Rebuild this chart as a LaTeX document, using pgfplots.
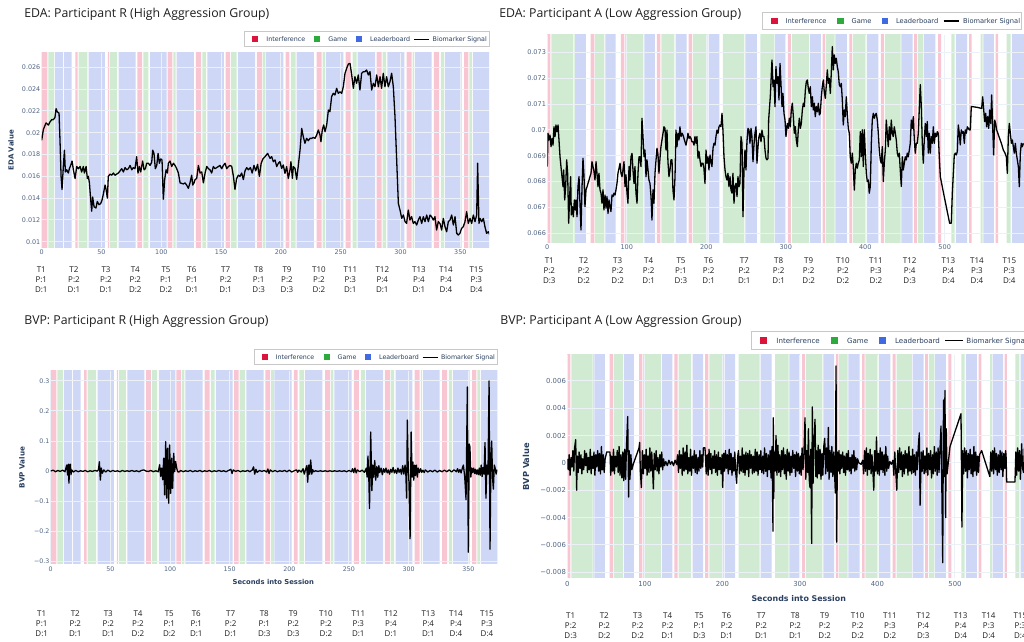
\documentclass[border=0pt]{standalone}
\usepackage{fontspec}
\setmainfont{Open Sans}
\newfontfamily\dv{DejaVu Sans}
\usepackage{pgfplots}
\pgfplotsset{compat=1.18}
\definecolor{pinkb}{RGB}{247,198,210}
\definecolor{greenb}{RGB}{208,235,210}
\definecolor{blueb}{RGB}{206,215,245}
\definecolor{legred}{RGB}{220,20,60}
\definecolor{leggreen}{RGB}{44,170,60}
\definecolor{legblue}{RGB}{65,105,225}
\definecolor{gridc}{RGB}{236,241,248}
\definecolor{tickc}{RGB}{80,100,130}
\definecolor{navy}{RGB}{42,63,95}
\definecolor{titlec}{RGB}{30,30,30}
\definecolor{legborder}{RGB}{200,200,200}

\pgfplotsset{
  panel/.style={
    scale only axis, anchor=south west,
    set layers, clip mode=individual,
    axis line style={draw=none}, tick style={draw=none},
    grid=major, major grid style={draw=gridc, line width=0.5pt},
    scaled ticks=false,
    xticklabel style={text=tickc, inner sep=0pt, anchor=north},
    yticklabel style={text=tickc, inner sep=0pt, anchor=east, xshift=-0.5pt},
  },
  sig/.style={black, line width=0.65pt, line join=round},
}

% Participant R bands: #1 low, #2 high
\newcommand\bandsR[2]{%
\addplot[on layer=axis background, const plot mark left, draw=none, fill=pinkb] coordinates {(0,#1)(0,#2)(4.7,#1)(28.1,#2)(30.1,#1)(55.4,#2)(56.3,#1)(80,#2)(83.9,#1)(105.3,#2)(109.2,#1)(129,#2)(133.2,#1)(153.8,#2)(157.5,#1)(180,#2)(184,#1)(203.9,#2)(207,#1)(229.9,#2)(234.1,#1)(254.1,#2)(258.3,#1)(280.1,#2)(284.3,#1)(305.1,#2)(309.3,#1)(328,#2)(332.2,#1)(353.2,#2)(356.8,#1)};
\addplot[on layer=axis background, const plot mark left, draw=none, fill=greenb] coordinates {(5.5,#1)(5.5,#2)(10.3,#1)(30.9,#2)(38.1,#1)(57.1,#2)(63,#1)(85,#2)(89.2,#1)(110,#2)(112,#1)(134.3,#2)(137.4,#1)(158.3,#2)(163,#1)(184.8,#2)(187,#1)(208.4,#2)(212.3,#1)(234.9,#2)(236.9,#1)(260,#2)(263.3,#1)(285,#2)(287.9,#1)(310.2,#2)(311.3,#1)(333.8,#2)(336.4,#1)(357.6,#2)(359.6,#1)};
\addplot[on layer=axis background, const plot mark left, draw=none, fill=blueb] coordinates {(11.1,#1)(11.1,#2)(18,#1)(18.7,#2)(25.1,#1)(39.3,#2)(52.9,#1)(64.3,#2)(78.6,#1)(90.6,#2)(104.5,#1)(112.9,#2)(127.3,#1)(138.5,#2)(152.4,#1)(164.1,#2)(178.4,#1)(187.5,#2)(202,#1)(213.2,#2)(227.6,#1)(237.7,#2)(252.2,#1)(264.2,#2)(278.7,#1)(289,#2)(303.2,#1)(312.1,#2)(326,#1)(337.2,#2)(351.2,#1)(360.5,#2)(380,#1)};
}
% Participant A bands
\newcommand\bandsA[2]{%
\addplot[on layer=axis background, const plot mark left, draw=none, fill=pinkb] coordinates {(0,#1)(0,#2)(3.8,#1)(54.6,#2)(59.2,#1)(92.7,#2)(96.9,#1)(138,#2)(142.2,#1)(177.9,#2)(182.1,#1)(302.8,#2)(306.6,#1)(346.5,#2)(349.5,#1)(380.2,#2)(383.6,#1)(419.6,#2)(423.4,#1)(461.6,#2)(464.9,#1)(491.6,#2)(495.4,#1)(530.6,#2)(534,#1)(564.1,#2)(567.1,#1)};
\addplot[on layer=axis background, const plot mark left, draw=none, fill=greenb] coordinates {(5.1,#1)(5.1,#2)(32.6,#1)(33.3,#2)(34.4,#1)(60,#2)(71.8,#1)(97.8,#2)(120.8,#1)(143.5,#2)(159.8,#1)(183.3,#2)(201.8,#1)(221,#2)(248,#1)(268,#2)(285.6,#1)(308.1,#2)(329,#1)(350.6,#2)(361.6,#1)(384.4,#2)(401,#1)(424.7,#2)(444.4,#1)(466.4,#2)(473.3,#1)(508.3,#2)(512.5,#1)(545.2,#2)(547.8,#1)(577.9,#2)(583,#1)};
\addplot[on layer=axis background, const plot mark left, draw=none, fill=blueb] coordinates {(34.9,#1)(34.9,#2)(48.5,#1)(73,#2)(86,#1)(122.1,#2)(135.5,#1)(161.5,#2)(175.3,#1)(203,#2)(216.4,#1)(249.2,#2)(263.6,#1)(286.3,#2)(300.3,#1)(330.3,#2)(344.2,#1)(362.6,#2)(376.9,#1)(402,#2)(416.7,#1)(445.4,#2)(459.5,#1)(474.1,#2)(488.4,#1)(514.2,#2)(528.3,#1)(548.6,#2)(562,#1)(584.7,#2)(610,#1)};
}

\begin{document}
\begin{tikzpicture}[x=0.5pt,y=0.5pt]

% ===== Top-left: EDA R =====
\begin{axis}[panel, at={(20.85pt,197.35pt)}, width=223.65pt, height=97.3pt,
  xmin=0, xmax=374, ymin=0.00949, ymax=0.02734,
  xtick={0,50,...,350}, xticklabels={0,50,100,150,200,250,300,350},
  ytick={0.01,0.012,0.014,0.016,0.018,0.02,0.022,0.024,0.026},
  yticklabels={0.01,0.012,0.014,0.016,0.018,0.02,0.022,0.024,0.026},
  xticklabel style={font={\dv\fontsize{3.2}{3.5}\selectfont}, yshift=-0.85pt},
  yticklabel style={font={\dv\fontsize{3.2}{3.5}\selectfont}}]
\bandsR{0}{0.05}
\addplot[sig] coordinates {(0,0.0193) (1.4,0.0203) (3.6,0.0209) (5.6,0.0207) (7,0.0210) (8.4,0.0212) (9.8,0.0212) (11.1,0.0214) (12,0.0222) (13.1,0.0219) (14.5,0.0218) (15.3,0.0193) (16.2,0.0160) (17,0.0148) (18.1,0.0169) (19,0.0184) (19.8,0.0164) (20.9,0.0166) (22.3,0.0163) (23.1,0.0167) (24.2,0.0170) (25.4,0.0174) (26.5,0.0166) (27.9,0.0158) (29.3,0.0169) (30.7,0.0167) (32.1,0.0169) (33.4,0.0164) (34.8,0.0169) (35.7,0.0163) (37.1,0.0169) (38.2,0.0158) (39,0.0160) (39.9,0.0154) (41,0.0138) (41.8,0.0128) (42.6,0.0141) (43.8,0.0132) (45.4,0.0131) (46.5,0.0137) (47.9,0.0134) (49.3,0.0135) (50.4,0.0138) (51.6,0.0144) (53,0.0152) (53.8,0.0148) (54.9,0.0140) (55.7,0.0160) (57.1,0.0162) (58.5,0.0161) (59.9,0.0163) (61.3,0.0161) (62.7,0.0162) (64.1,0.0163) (65.5,0.0165) (66.9,0.0167) (68.3,0.0164) (69.7,0.0168) (71.1,0.0166) (72.5,0.0167) (73.9,0.0170) (75.3,0.0166) (76.6,0.0168) (78,0.0167) (79.4,0.0178) (80.5,0.0163) (81.7,0.0169) (82.8,0.0164) (84.4,0.0174) (85.6,0.0166) (86.7,0.0167) (87.8,0.0172) (89.2,0.0172) (90.6,0.0170) (92,0.0173) (92.8,0.0184) (93.9,0.0181) (95,0.0167) (96.2,0.0170) (97.3,0.0181) (98.4,0.0172) (99.5,0.0176) (100.6,0.0175) (101.7,0.0139) (102.8,0.0157) (104,0.0166) (105.1,0.0163) (105.9,0.0172) (107.3,0.0174) (108.7,0.0169) (110.1,0.0172) (111.5,0.0170) (112.9,0.0167) (114.3,0.0163) (115.7,0.0154) (118.5,0.0153) (119.8,0.0154) (121.2,0.0152) (122.6,0.0149) (124,0.0154) (125.4,0.0161) (126.3,0.0152) (127.4,0.0154) (128.2,0.0157) (129.6,0.0158) (131,0.0170) (132.4,0.0163) (133.8,0.0164) (135.2,0.0154) (136.6,0.0163) (138,0.0169) (139.4,0.0167) (140.7,0.0166) (142.1,0.0163) (143.5,0.0169) (144.9,0.0167) (146.3,0.0168) (147.7,0.0169) (149.1,0.0170) (150.5,0.0167) (151.9,0.0170) (153.3,0.0172) (154.7,0.0167) (156.1,0.0169) (157.5,0.0170) (158.9,0.0169) (160.3,0.0160) (161.6,0.0148) (163,0.0158) (164.4,0.0161) (165.8,0.0160) (167.2,0.0163) (168.6,0.0157) (170,0.0165) (171.4,0.0168) (172.8,0.0166) (174.5,0.0168) (176,0.0163) (177.5,0.0170) (179,0.0165) (180.5,0.0171) (182,0.0160) (183.5,0.0172) (185,0.0176)
(186.7,0.0178)(188.9,0.0181)(190.9,0.01765)(192.3,0.0178)(193.7,0.01734)(195.1,0.0175)(196.5,0.01689)(197.9,0.0172)(199.2,0.01734)(200.6,0.01673)(202,0.01704)(203.4,0.01627)(204.8,0.01689)(206.2,0.01581)(207.6,0.01658)(208.4,0.01734)(209.6,0.01581)(210.4,0.01689)(211.8,0.01673)(213.2,0.01572)(214.6,0.01704)(216,0.01841)(217.4,0.0204)(218.7,0.01964)(220.1,0.01903)(221.5,0.01948)(222.9,0.01927)(224.3,0.01948)(225.7,0.01948)(227.1,0.01957)(228.5,0.01948)(229.9,0.01979)(231.3,0.02025)(232.7,0.01979)(233.5,0.01918)(234.6,0.02025)(235.8,0.02071)(236.9,0.0201)(238.3,0.02071)(239.7,0.02208)(241,0.02193)(242.4,0.0233)(243.8,0.02361)(245.2,0.02346)(246.6,0.02407)(248,0.02361)(249.4,0.02376)(250.8,0.02361)(252.2,0.02422)(253.6,0.02545)(255,0.02591)(256.4,0.0263)(257.8,0.02636)(259.2,0.0253)(260.6,0.02407)(261.9,0.02514)(263.3,0.02453)(264.7,0.0253)(266.1,0.02392)(267.5,0.02545)(268.9,0.0256)(270.3,0.0256)(271.7,0.02575)(273.1,0.0253)(274.5,0.0256)(275.9,0.02392)(277.3,0.02453)(278.7,0.02422)(280.1,0.0253)(281.5,0.02422)(282.9,0.02514)(284.2,0.02407)(285.6,0.02545)(287,0.02422)(288.4,0.02514)(289.8,0.02422)(291.2,0.02468)(292.6,0.02545)(294,0.02422)(295.4,0.02147)(296.8,0.0175)(298.2,0.01352)(299.6,0.01291)(301,0.01214)(302.4,0.01245)(303.8,0.01184)(305.1,0.01168)(306.5,0.01291)(307.9,0.01199)(309.3,0.0123)(310.7,0.01168)(312.1,0.01184)(313.5,0.01153)(314.9,0.01199)(316.3,0.0123)(317.7,0.01168)(319.1,0.0123)(320.5,0.01184)(321.9,0.01245)(323.3,0.01184)(324.7,0.01245)(326,0.0123)(327.4,0.01199)(328.8,0.0123)(330.2,0.01107)(331.6,0.01184)(333,0.01168)(334.4,0.01107)(335.8,0.01214)(337.2,0.01138)(338.6,0.01092)(340,0.01184)(341.4,0.01199)(342.8,0.01245)(344.2,0.01153)(345.6,0.0123)(347,0.01077)(348.3,0.01062)(349.7,0.01077)(351.1,0.01123)(352.5,0.01138)(353.9,0.01184)(355.3,0.01276)(356.7,0.01168)(358.1,0.01214)(359.5,0.01168)(360.9,0.01245)(362.3,0.01184)(363.7,0.01245)(364.5,0.0172)(365.6,0.01168)(366.5,0.01214)(367.9,0.01184)(369.3,0.01214)(370.6,0.01138)(372,0.01077)(373.4,0.01092)(374.8,0.01062)};
\end{axis}

% ===== Top-right: EDA A =====
\begin{axis}[panel, at={(273.65pt,199.65pt)}, width=238.35pt, height=103.85pt,
  xmin=0, xmax=599.8, ymin=0.065636, ymax=0.07367,
  xtick={0,100,...,500}, xticklabels={0,100,200,300,400,500},
  ytick={0.066,0.067,0.068,0.069,0.07,0.071,0.072,0.073},
  yticklabels={0.066,0.067,0.068,0.069,0.07,0.071,0.072,0.073},
  xticklabel style={font={\dv\fontsize{3.25}{3.5}\selectfont}, yshift=-0.95pt},
  yticklabel style={font={\dv\fontsize{3.25}{3.5}\selectfont}}]
\bandsA{0.064}{0.075}
\addplot[sig] coordinates {(0,0.06858)(0.9,0.06987)(2.1,0.06961)(3.4,0.0698)(4.7,0.06935)(5.9,0.06967)(7.2,0.06941)(8.4,0.07012)(9.7,0.06974)(10.9,0.07019)(12.2,0.06993)(13.5,0.07019)(14.7,0.06961)(16,0.06896)(17.2,0.06858)(18.5,0.06819)(19.8,0.0678)(20.6,0.06845)(21.9,0.06729)(23.1,0.0678)(24.4,0.06884)(25.6,0.06832)(26.9,0.06639)(28.1,0.06742)(29.4,0.06819)(30.2,0.06671)(31.5,0.06703)(32.8,0.06664)(34,0.06729)(35.3,0.0669)(36.1,0.06729)(37.4,0.06664)(38.6,0.0678)(39.9,0.06819)(41.1,0.06716)(42.4,0.06613)(43.7,0.0678)(44.9,0.0689)(46.2,0.06819)(47.4,0.06703)(48.7,0.06768)(50,0.0678)(51.2,0.06793)(52.5,0.06806)(53.7,0.06819)(55,0.06832)(56.2,0.06877)(57.5,0.06858)(58.8,0.06838)(60,0.06806)(61.3,0.06877)(62.5,0.06832)(63.8,0.0678)(65,0.06832)(66.3,0.06768)(67.6,0.06755)(68.8,0.06716)(70.1,0.06768)(71.3,0.0669)(72.6,0.06748)(73.9,0.06697)(75.1,0.06742)(76.4,0.06677)(77.6,0.06729)(78.9,0.06703)(80.1,0.06684)(81.4,0.06748)(82.7,0.06742)(83.9,0.06755)(85.2,0.06748)(86.4,0.06768)(87.7,0.06793)(88.9,0.06832)(90.2,0.06851)(91.5,0.06871)(92.7,0.06832)(94,0.06819)(95.2,0.06845)(96.5,0.06877)(97.8,0.0678)(99,0.06826)(100.3,0.06755)(101.5,0.06716)(102.8,0.06858)(104,0.06806)(105.3,0.06896)(106.6,0.06909)(107.8,0.06845)(109.1,0.06793)(110.3,0.06858)(111.6,0.06755)(112.9,0.06716)(114.1,0.06832)(115.4,0.06896)(116.6,0.06896)(117.9,0.06858)(119.1,0.07045)(120.4,0.06974)(121.7,0.06896)(122.9,0.06922)(124.2,0.06819)(125.4,0.06884)(126.7,0.06845)(127.9,0.06806)(129.2,0.06793)(130.5,0.06742)(131.7,0.06651)(133,0.06768)(134.2,0.06716)(135.5,0.06832)(136.8,0.06884)(138,0.06929)(139.3,0.06903)(140.5,0.06832)(141.8,0.0689)(143,0.06935)(144.3,0.06961)(145.6,0.06987)(146.8,0.07012)(148.1,0.07006)(149.3,0.06922)(150.6,0.06999)(151.8,0.06877)(153.1,0.06819)(154.4,0.06845)(155.6,0.06884)(156.9,0.06884)(158.1,0.06768)(159.4,0.06729)(160.7,0.06819)(161.9,0.06999)(163.2,0.06935)(164.4,0.06987)(165.7,0.06961)(166.9,0.07012)(168.2,0.06974)(169.5,0.06987)(170.7,0.0698)(172,0.06967)(173.2,0.06954)(174.5,0.06941)(175.8,0.06961)(177,0.06987)(178.3,0.06967)(179.5,0.06974)(180.8,0.06967)(182,0.06954)(183.3,0.06954)(184.6,0.06941)(185.8,0.06974)(187.1,0.06948)(188.3,0.06974)(189.6,0.0689)(190.9,0.06916)(192.1,0.06884)(193.4,0.06858)(194.6,0.06871)(195.9,0.06871)(197.1,0.06851)(198.4,0.06793)(199.7,0.06922)(200.9,0.06871)(202.2,0.06896)(203.4,0.06845)(204.7,0.06903)(205.9,0.06877)(207.2,0.06858)(208.5,0.06929)(209.7,0.06948)(211,0.06941)(212.2,0.06974)(213.5,0.06999)(214.8,0.06987)(216,0.07012)(217.3,0.07019)(218.5,0.07012)(219.8,0.07064)(221,0.06999)(222.3,0.06896)(223.6,0.06845)(224.8,0.06819)(226.1,0.06806)(227.3,0.06832)(228.6,0.0678)(229.9,0.06819)(231.1,0.06768)(232.4,0.06755)(233.6,0.06832)(234.9,0.06716)(236.1,0.0678)(237.4,0.06793)(238.7,0.06742)(239.9,0.06819)(241.2,0.0678)(242.4,0.06793)(243.7,0.06974)(245,0.06948)(246.2,0.06664)(247.5,0.06845)(248.7,0.06922)(250,0.06845)(251.2,0.06954)(252.5,0.07006)(253.8,0.06999)(255,0.06948)(256.3,0.07006)(257.5,0.06974)(258.8,0.06877)(260,0.06941)(261.3,0.06987)(262.6,0.07012)(263.8,0.06871)(265.1,0.06935)(266.3,0.06974)(267.6,0.06987)(268.9,0.06954)(270.1,0.06999)(271.4,0.06974)(272.6,0.06974)(273.9,0.06922)(275.2,0.0689)(276.4,0.06884)(277.7,0.0689)(278.5,0.07038)(280.6,0.07129)(282.7,0.0727)(284,0.07167)(285.2,0.07193)(286.5,0.0709)(287.7,0.07245)(289,0.0718)(290.3,0.07206)(291.5,0.07116)(292.8,0.07257)(294,0.0718)(295.3,0.0709)(296.5,0.07141)(297.8,0.07064)(299.1,0.07038)(300.3,0.06974)(302,0.07025)(303.3,0.07006)(304.5,0.07045)(305.8,0.07012)(307,0.07077)(308.3,0.07103)(309.6,0.07051)(310.8,0.06987)(312.1,0.07012)(313.3,0.06961)(314.6,0.06935)(315.8,0.07)(317.1,0.07045)(318.4,0.07006)(319.6,0.07025)(320.9,0.07077)(322.1,0.07103)(323.4,0.0709)(324.7,0.07154)(325.9,0.07186)(327.2,0.07193)(328.4,0.07161)(329.7,0.07141)(330.9,0.07167)(332.2,0.0709)(333.5,0.07128)(334.7,0.07077)(336,0.07103)(337.2,0.07051)(338.5,0.0709)(339.7,0.0707)(341,0.07103)(342.3,0.07058)(343.5,0.07064)(344.8,0.07128)(346,0.07167)(347.3,0.07193)(348.5,0.07148)(349.8,0.07122)(351.1,0.07174)(352.3,0.07232)(353.6,0.0718)(354.8,0.07199)(356.1,0.07141)(357.3,0.07219)(358.6,0.07322)(359.9,0.07232)(361.1,0.0729)(362.4,0.07257)(363.6,0.07277)(364.9,0.07244)(366.1,0.07225)(367.4,0.07174)(368.7,0.07167)(369.9,0.0718)(371.2,0.07116)(372.4,0.07019)(373.7,0.07077)(374.9,0.07051)(376.2,0.07128)(377.5,0.07058)(378.7,0.07006)(380,0.06987)(381.2,0.06896)(382.5,0.06871)(383.8,0.0691)(385,0.06858)(386.3,0.06767)(387.5,0.06845)(388.8,0.06871)(390,0.06852)(391.3,0.06871)(392.6,0.06884)(393.8,0.06993)(395.1,0.06896)(396.3,0.07)(397.6,0.06858)(398.8,0.07)(400.1,0.0691)(401.4,0.06832)(402.6,0.068)(403.9,0.06806)(405.1,0.06755)(406.4,0.06781)(407.7,0.06948)(408.9,0.07038)(410.2,0.07064)(411.4,0.07045)(412.7,0.07058)(413.9,0.07064)(415.2,0.07038)(416.5,0.06987)(417.7,0.06922)(419,0.06884)(420.2,0.06871)(421.5,0.06935)(422.8,0.068)(424,0.06871)(425.3,0.06922)(426.5,0.07038)(427.8,0.06987)(429,0.06935)(430.3,0.07012)(431.6,0.06961)(432.8,0.07038)(434.1,0.06987)(435.3,0.06974)(436.6,0.07012)(437.9,0.06987)(439.1,0.06961)(440.4,0.0691)(441.6,0.06896)(442.9,0.0691)(444.1,0.06845)(445.4,0.06781)(446.7,0.06896)(447.9,0.06845)(449.2,0.06871)(450.4,0.06896)(451.7,0.06884)(452.9,0.0691)(454.2,0.06896)(455.5,0.06922)(456.7,0.06948)(458,0.07038)(459.2,0.07006)(460.5,0.07051)(461.8,0.06961)(463,0.0691)(464.3,0.06948)(465.5,0.06948)(466.8,0.06987)(468,0.07077)(469.3,0.07175)(470.6,0.0709)(471.8,0.06948)(473.1,0.06871)(474.3,0.06961)(475.6,0.07025)(476.9,0.06974)(478.1,0.07032)(479.4,0.0691)(480.6,0.06987)(481.9,0.0691)(483.1,0.06974)(484.4,0.06948)(485.7,0.07012)(486.9,0.06948)(488.2,0.06987)(489.4,0.06974)(490.7,0.06993)(491.9,0.06987)(493.2,0.06896)(494.5,0.06819)(495.7,0.068)(497.8,0.06767)(499.9,0.06735)(502,0.06703)(504.1,0.06671)(506.2,0.06639)(508.3,0.06639)(509.6,0.06755)(510.9,0.06832)(512.1,0.06903)(513.4,0.0691)(514.6,0.06903)(515.9,0.06916)(517.1,0.07019)(518.4,0.06987)(519.6,0.06942)(520.9,0.07)(522.2,0.06987)(523.4,0.06993)(524.7,0.06948)(525.9,0.07)(527.2,0.06987)(528.5,0.07012)(529.7,0.07006)(531,0.07)(532.2,0.07)(533.5,0.0709)(534.7,0.0709)(541.1,0.07087)(546.5,0.07083)(547.8,0.07128)(549.1,0.07077)(550.3,0.07032)(551.6,0.07064)(552.8,0.07012)(554.1,0.07051)(555.4,0.07006)(556.6,0.07077)(557.9,0.07025)(559.1,0.07135)(560.4,0.07012)(561.6,0.06903)(562.9,0.07038)(564.1,0.07025)(565.4,0.07)(568.3,0.06974)(571.3,0.06948)(573.8,0.06922)(575.9,0.0691)(577.6,0.06896)(578.8,0.06832)(580.1,0.06974)(581.3,0.07025)(582.6,0.06987)(583.9,0.06948)(585.1,0.06961)(586.4,0.06935)(587.6,0.0691)(588.9,0.06948)(590.1,0.0691)(591.4,0.06884)(592.7,0.06858)(593.9,0.0678)(595.2,0.0691)(596.4,0.06948)(597.7,0.06935)(599,0.06948)};
\end{axis}

% ===== Bottom-left: BVP R =====
\begin{axis}[panel, at={(25.35pt,39pt)}, width=223.3pt, height=96.5pt,
  xmin=0, xmax=374.3, ymin=-0.309, ymax=0.333,
  xtick={0,50,...,350}, xticklabels={0,50,100,150,200,250,300,350},
  ytick={-0.3,-0.2,-0.1,0,0.1,0.2,0.3},
  yticklabels={−0.3,−0.2,−0.1,0,0.1,0.2,0.3},
  xticklabel style={font={\dv\fontsize{3.15}{3.5}\selectfont}, yshift=-1pt},
  yticklabel style={font={\dv\fontsize{3.15}{3.5}\selectfont}}]
\bandsR{-1}{1}
\addplot[sig] coordinates {(0,0)(2,0.003)(4,-0.002)(6,0.002)(8,-0.001)(10,0.003)(12,-0.002)(13.4,0.02)(14.2,-0.013)(14.8,0.023)(15.3,-0.04)(15.9,0.02)(16.5,0.023)(17,-0.012)(17.6,0.004)(19,-0.003)(21,0.002)(23,-0.002)(25,0.001)(27,-0.001)(29,0.002)(31,-0.002)(33,0.001)(35,-0.001)(37,0.002)(39,0)(40,0.004)(40.8,0.031)(41.6,-0.03)(42.4,0.01)(43.3,-0.007)(44.5,0.004)(46,-0.003)(48,0.003)(50,-0.002)(52,0.002)(54,-0.001)(56,0.001)(58,-0.002)(60,0.002)(62,-0.001)(64,0.001)(66,-0.001)(68,0.002)(70,-0.001)(72,0.001)(74,-0.002)(76,0.002)(78,0.004)(80,0)(82,-0.001)(84,0.002)(86,-0.002)(88,0.001)(90.2,-0.002)(91.3,0.021)(92.2,-0.018)(93,0.01)(93.9,-0.029)(94.7,0.043)(95.5,-0.079)(96.4,0.098)(97.2,-0.09)(98,0.076)(98.9,-0.107)(99.7,0.087)(100.6,-0.074)(101.4,0.043)(102.2,-0.057)(103.1,0.059)(103.9,-0.002)(104.7,0.032)(105.6,0.01)(106.4,-0.002)(107.5,-0.003)(109,0.002)(111,-0.002)(113,0.001)(115,-0.001)(117,0.002)(119,-0.002)(121,0.001)(123,-0.001)(125,0.002)(127,-0.002)(129,0.001)(131,-0.001)(133,0.002)(135,-0.002)(137,0.001)(139,-0.001)(141,0.002)(143,-0.001)(145,0.001)(147,-0.002)(149,0.002)(151,0.006)(152,-0.008)(153,0.004)(155,-0.001)(157,0.002)(159,-0.002)(161,0.001)(163,-0.001)(165,0.002)(167,-0.002)(169,0.004)(170,0.014)(171,-0.01)(172,0.006)(173,-0.004)(175,0.002)(177,-0.001)(179,0.002)(181,-0.003)(182,0.007)(183,-0.008)(184,0.004)(186,-0.002)(188,0.002)(190,-0.002)(192,0.001)(194,-0.001)(196,0.002)(198,-0.002)(200,0.003)(202,-0.003)(204,0.001)(206,0.004)(207,-0.004)(208,0.003)(210,-0.003)(211.5,0.008)(212.5,-0.01)(213.5,0.004)(214.6,0.018)(215.4,-0.037)(216.2,0.02)(217.1,-0.01)(217.9,0.037)(218.8,-0.01)(219.6,0.005)(220.4,-0.002)(222,0.001)(224,-0.001)(226,0.001)(228,-0.001)(230,0.001)(232,-0.001)(234,0.001)(236,-0.001)(238,0.001)(240,-0.001)(242,0.001)(244,-0.001)(246,0.001)(248,-0.002)(250,0.002)(252,-0.002)(253,0.008)(254,-0.005)(255,0.01)(256,-0.006)(257,0.004)(259,-0.002)(261,0.003)(263,-0.004)(264.5,0.01)(265.2,-0.02)(265.9,0.05)(266.6,-0.02)(267.2,-0.124)(268.2,0.13)(269.2,-0.065)(270,0.02)(270.7,-0.02)(271.6,0.035)(272.4,-0.03)(273.3,0.015)(274.1,-0.02)(275,0.018)(275.8,-0.005)(276.9,0.01)(278,-0.012)(279,0.008)(280,-0.004)(281,0.01)(282,-0.006)(283,0.004)(284,-0.01)(285,0.006)(286,-0.004)(287,0.012)(288,-0.006)(289,0.004)(290,-0.008)(291,0.01)(292,-0.004)(293,0.006)(294,-0.01)(295,0.018)(296,-0.01)(297,0.02)(297.7,-0.015)(298.3,-0.09)(298.9,0.17)(299.6,0.02)(300.3,-0.04)(301.2,-0.225)(302.1,0.13)(302.9,-0.02)(303.6,0.03)(304.3,-0.03)(305,0.02)(305.7,-0.015)(306.5,0.02)(307.3,-0.02)(308,0.01)(309,-0.005)(310,0.008)(311,-0.004)(312,0.003)(313,-0.005)(314,0.004)(316,-0.003)(318,0.002)(320,-0.002)(322,0.003)(324,-0.003)(326,0.002)(328,-0.002)(330,0.003)(332,-0.002)(334,0.004)(336,-0.003)(338,0.004)(340,-0.002)(341,0.008)(342,-0.004)(343,0.005)(344,-0.006)(345,0.01)(345.9,0.02)(347,-0.02)(348.1,-0.095)(349.2,0.28)(350,-0.27)(350.8,0.09)(351.4,0.08)(352.1,-0.02)(352.9,0.01)(353.6,-0.005)(354.5,0.01)(355.3,-0.008)(356,0.006)(356.8,-0.01)(357.6,0.004)(358.4,-0.012)(359.2,0.01)(360,-0.014)(360.8,0.02)(361.6,-0.018)(362.4,0.012)(363.2,-0.01)(364,0.095)(364.8,-0.09)(365.6,0.02)(366.5,-0.01)(367.4,0.3)(368.2,-0.26)(369,0.05)(369.6,0.1)(370.3,-0.02)(371,-0.06)(371.8,0.02)(372.5,0.01)(373.3,-0.01)(374,0.005)};
\end{axis}

% ===== Bottom-right: BVP A =====
\begin{axis}[panel, at={(283.65pt,32.15pt)}, width=229.85pt, height=111.35pt,
  xmin=0, xmax=592.9, ymin=-0.0084, ymax=0.0079,
  xtick={0,100,...,500}, xticklabels={0,100,200,300,400,500},
  ytick={-0.008,-0.006,-0.004,-0.002,0,0.002,0.004,0.006},
  yticklabels={−0.008,−0.006,−0.004,−0.002,0,0.002,0.004,0.006},
  xticklabel style={font={\dv\fontsize{3.45}{3.8}\selectfont}, yshift=-1.4pt},
  yticklabel style={font={\dv\fontsize{3.45}{3.8}\selectfont}}]
\bandsA{-1}{1}
\addplot[sig] coordinates {(0,0.0003)(1.2,-0.0005)(2.4,0.0006)(3.6,-0.0009)(4.8,0.0004)(6,-0.0003)(7.2,0.0009)(8.4,-0.0006)(9.4,0.0011)(10.8,0.0017)(12.1,-0.002)(12.8,0.0005)(14,-0.0007)(15.2,0.0008)(16.4,-0.0004)(17.6,0.0006)(18.8,-0.0008)(20,0.0003)(21.2,-0.0005)(22.4,0.0009)(23.6,-0.0002)(24.8,0.0007)(26,-0.0007)(27.2,0.0004)(28.4,-0.0005)(29.6,0.001)(30.8,-0.0008)(32,0.0005)(33.2,-0.0004)(34.4,0.0008)(35.6,-0.0009)(36.8,0.0006)(38,-0.0003)(39.2,0.0009)(40.4,-0.0006)(41.6,0.0007)(42.8,-0.0008)(44,0.0012)(45.2,-0.0005)(46.4,0.0006)(47.6,-0.0007)(48.8,0.0003)(50.8,0.0008)(55.1,0.0008)(56,-0.0009)(57.2,0.0005)(58.4,-0.0006)(59.6,0.001)(60.8,-0.0008)(62,0.0005)(63.2,-0.0003)(64.4,0.0009)(65.6,-0.0007)(66.8,0.0012)(68,-0.0009)(69.2,0.0006)(70.4,-0.0011)(71.6,0.0008)(72.8,-0.0013)(74,0.001)(75.2,-0.0012)(76.4,0.0013)(77.9,0.0034)(79.1,-0.0025)(79.8,0.0009)(80.8,-0.0012)(82,0.0006)(83.2,-0.0005)(85,-0.0001)(92.5,0.0011)(93.3,0.0015)(94.2,-0.0006)(95.5,-0.0018)(96.9,0.0009)(98.1,-0.0008)(99.3,0.0006)(100.5,-0.0004)(101.7,0.001)(102.9,-0.0009)(104.1,0.0005)(105.3,-0.0007)(106.5,0.0011)(107.7,-0.0006)(108.9,0.0008)(110,-0.0005)(111,-0.0019)(112.2,0.0007)(113.4,-0.0005)(114.6,0.0009)(115.8,-0.0006)(117,0.0004)(118.2,-0.0008)(119.4,0.0006)(120.6,-0.0003)(121.8,0.0008)(123,-0.0005)(124.2,0.0003)(125.4,-0.0002)(127,0.0001)(129,-0.0002)(131,0.0002)(133,-0.0001)(135,0.0001)(137,-0.0002)(139,0.0002)(141,-0.0001)(142.2,0.0006)(143.4,-0.0007)(144.6,0.0009)(145.8,-0.0004)(147,0.0006)(148.2,-0.0009)(149.4,0.0011)(150.6,-0.0006)(151.8,0.0008)(153,-0.0005)(154.2,0.0013)(155.4,-0.0008)(156.6,0.0004)(157.8,-0.0006)(159,0.001)(160.2,-0.0009)(161.4,0.0005)(162.6,-0.0004)(163.8,0.0009)(165,-0.0007)(166.2,0.0006)(167.4,-0.0008)(168.6,0.0004)(169.8,-0.0006)(171,0.0009)(172.2,-0.0004)(173.4,0.0006)(174.6,-0.0003)(175.5,0.0011)(177.6,0.0011)(179.2,-0.0008)(180.4,0.0006)(181.6,-0.0009)(182.8,0.001)(184,-0.0005)(185.2,0.0007)(186.4,-0.0008)(187.6,0.0005)(188.8,-0.0004)(190,0.0009)(191.2,-0.0007)(192.4,0.0006)(193.6,-0.0009)(194.8,0.0008)(196,-0.0005)(197.2,0.0004)(198.4,-0.0008)(199.6,0.0006)(200.4,-0.0018)(201.6,0.0007)(202.8,-0.0006)(204,0.0009)(205.2,-0.0004)(206.4,0.0006)(207.6,-0.0008)(208.8,0.001)(210,-0.0005)(211.2,0.0007)(212.4,-0.0009)(213.6,0.0004)(214.8,-0.0006)(216,0.0008)(217.2,-0.0007)(218.4,-0.0015)(219.6,0.0004)(220.8,0.0009)(222,-0.0008)(223.2,0.0005)(224.4,-0.0006)(225.6,0.0011)(226.8,-0.0007)(228,0.0006)(229.2,-0.0009)(230.4,0.0008)(231.6,-0.0005)(232.8,0.0007)(234,-0.001)(235.2,0.0009)(236.4,-0.0004)(237.6,0.0006)(238.8,-0.0008)(240,0.0005)(241.2,-0.0007)(242.4,0.001)(243.6,-0.0006)(244.8,0.0008)(246,-0.0009)(247.2,0.0006)(248.4,-0.0005)(249.6,0.0009)(250.8,-0.0007)(252,0.0005)(253.2,-0.0008)(254.4,0.0011)(255.6,-0.0006)(256.8,0.0007)(258,-0.001)(259.2,0.0006)(260.4,-0.0005)(261.6,0.0009)(262.8,-0.0011)(264,0.0012)(265.3,-0.005)(265.7,0.0033)(266.3,-0.0026)(267,0.0008)(268,-0.0006)(269.2,0.002)(270.4,-0.0009)(271.6,0.0013)(272.8,-0.0007)(274,0.0006)(275.2,-0.001)(276.4,0.0009)(277.6,-0.0005)(278.8,0.0011)(280,-0.0008)(281.2,0.0006)(282.4,-0.0012)(283.6,0.001)(284.8,-0.0006)(286,0.0008)(287.2,-0.0009)(288.4,0.0005)(289.6,-0.0007)(290.8,0.0009)(292,-0.0004)(293.2,0.0006)(294.4,-0.001)(295.6,0.0008)(296.8,-0.0006)(298,0.0007)(299.2,-0.0008)(300.4,0.0005)(301.6,-0.0009)(302.8,0.0011)(304,-0.0005)(305.2,0.0007)(306.6,0.0033)(307.6,-0.0012)(308.8,0.0009)(310,-0.0007)(311,0.0025)(312,-0.0012)(313,-0.0018)(314,0.001)(315.2,-0.0059)(316,0.0041)(317,-0.0015)(318,0.0012)(319.5,0.0032)(320.5,-0.001)(321.2,0.0009)(322.4,-0.0011)(323.6,0.0013)(324.8,-0.0008)(326,0.001)(327.2,-0.0012)(328.4,0.0007)(329.6,-0.0009)(330.8,0.0012)(332,0.0018)(333.2,-0.0008)(334.4,0.0011)(335.6,-0.0006)(336.7,0.0026)(337.6,-0.0012)(338.8,0.0009)(340,-0.0007)(341.2,0.0012)(342.4,-0.001)(343.6,0.0008)(345.7,-0.0022)(346.6,0.0071)(347.4,-0.0058)(348.4,0.0008)(349.4,-0.0006)(350.4,0.0009)(351.6,-0.0008)(352.8,0.0006)(354,-0.0004)(355.2,0.0008)(356.4,-0.0007)(357.6,0.0005)(358.8,-0.0009)(360,0.0007)(361.2,-0.0005)(362.4,0.0009)(363.6,-0.0006)(364.8,0.0004)(366,-0.0008)(367.2,0.0006)(368.4,-0.0004)(369.6,0.0009)(370.8,-0.0006)(372,0.0004)(373.2,-0.0005)(374.4,0.0003)(376,0)(379,-0.0001)(381,0.0002)(382.2,-0.0008)(383.4,0.0009)(384.6,-0.0006)(385.8,0.0011)(387,-0.0009)(388.2,0.0007)(389.4,-0.0005)(390.6,0.001)(391.8,-0.0008)(393,0.0006)(394.2,-0.0007)(395.3,-0.002)(396.4,0.0009)(397.6,-0.0006)(398.8,0.0019)(400,-0.0008)(401.2,0.0007)(402.4,-0.0009)(403.6,0.0011)(404.8,-0.0005)(406,0.0008)(407.2,-0.0007)(408.4,0.0006)(409.6,-0.0009)(410.8,0.0012)(412,-0.0006)(413.2,0.0005)(414.4,-0.0004)(416,0.0001)(418,-0.0001)(420,0.0002)(421.2,-0.0009)(422.4,0.0008)(423.6,-0.0006)(425,-0.002)(426.2,0.0009)(427.4,-0.0007)(428.6,0.0011)(429.8,-0.0005)(431,0.0008)(432.2,-0.001)(433.4,0.0006)(434.6,-0.0008)(435.8,0.0009)(437,-0.0004)(438.2,0.0007)(439.4,-0.0009)(440.6,0.0012)(441.8,-0.0006)(443,0.0005)(444.2,-0.0008)(445.4,0.001)(446.6,-0.0007)(447.8,0.0006)(449,-0.0009)(450.2,0.0008)(451.4,-0.0005)(452.6,0.0011)(454,0.0022)(455,-0.0031)(456.6,0.0008)(457.8,-0.0006)(459,0.0009)(460.2,-0.0008)(461.4,0.0005)(462.6,-0.0007)(463.8,0.0011)(465,-0.0009)(466.2,0.0007)(467.4,-0.0005)(468.6,0.0009)(469.8,-0.0011)(471,0.0006)(472.2,-0.0008)(473.4,0.0012)(474.6,-0.0006)(475.8,0.0008)(477,-0.0009)(478.2,0.0011)(479.4,-0.0007)(480.6,0.0009)(482,0.0027)(483,-0.0015)(484.2,-0.0073)(485.2,0.0046)(486,-0.001)(487.1,0.0053)(488,-0.004)(488.8,0.0025)(489.8,-0.0008)(493.6,0.0012)(507.8,0.0036)(509,-0.0047)(510,0.0009)(511.2,-0.0008)(512.4,0.0011)(513.6,-0.0006)(514.8,0.0009)(516,-0.0011)(517.2,0.0007)(518.4,-0.0005)(519.6,0.001)(520.8,-0.0008)(522,0.0006)(523.2,-0.001)(524.4,0.0012)(525.6,-0.0006)(526.8,0.0008)(528,-0.0009)(529.2,0.0005)(530.4,-0.0007)(531.6,0.0006)(534.4,0.0009)(545,-0.001)(546.2,0.0008)(547.4,-0.0006)(548.6,0.0009)(549.8,-0.0008)(551,0.0011)(552.2,-0.0005)(553.4,0.0007)(554.6,-0.0009)(555.8,0.0006)(557,-0.0007)(558.2,0.0009)(559.4,-0.0005)(560.6,0.0008)(561.8,-0.001)(563,0.0007)(564.2,-0.0004)(565.4,0.0009)(566,0.0004)(566.7,-0.0014)(577.4,-0.0014)(578.5,0.0008)(579.6,-0.0009)(580.8,0.0011)(582,-0.0006)(583.2,0.0009)(584.4,-0.0012)(586,0.0014)(587.2,-0.0004)(588.4,-0.0007)(589.6,0.0011)(590.8,-0.0009)(592,0.0006)(593.2,-0.0005)};
\end{axis}

% ===== Titles =====
\begin{scope}[every node/.style={anchor=base west, inner sep=0, text=titlec, font=\fontsize{6.15}{7}\selectfont}]
\node at (24,624.7) {EDA: Participant R (High Aggression Group)};
\node at (499,624.7) {EDA: Participant A (Low Aggression Group)};
\node at (24,317) {BVP: Participant R (High Aggression Group)};
\node at (500,317) {BVP: Participant A (Low Aggression Group)};
\end{scope}

% ===== Axis titles =====
\node[rotate=90, text=navy, font={\dv\bfseries\fontsize{3.5}{4}\selectfont}] at (11,491.7) {EDA Value};
\node[rotate=90, text=navy, font={\dv\bfseries\fontsize{3.6}{4}\selectfont}] at (22,174.5) {BVP Value};
\node[rotate=90, text=navy, font={\dv\bfseries\fontsize{4.15}{4.5}\selectfont}] at (526,175.3) {BVP Value};
\node[text=navy, font={\dv\bfseries\fontsize{3.4}{4}\selectfont}] at (273.3,60.3) {Seconds into Session};
\node[text=navy, font={\dv\bfseries\fontsize{3.95}{4.5}\selectfont}] at (798.7,43.7) {Seconds into Session};

% ===== Legends =====
% TL
\draw[legborder, line width=0.5pt, fill=white] (244,595) rectangle (489,610);
\fill[legred] (252,599.5) rectangle (258,605.5);
\fill[leggreen] (314.3,599.5) rectangle (320.3,605.5);
\fill[legblue] (356.3,599.5) rectangle (362.3,605.5);
\draw[black, line width=0.6pt] (414,602.5) -- (429,602.5);
\begin{scope}[every node/.style={anchor=base west, inner sep=0, text=navy, font={\dv\fontsize{3.175}{3.5}\selectfont}}]
\node at (266,600.2) {Interference};
\node at (328,600.2) {Game};
\node at (369.7,600.2) {Leaderboard};
\node at (432.3,600.2) {Biomarker Signal};
\end{scope}
% TR
\draw[legborder, line width=0.5pt, fill=white] (762.7,612.7) rectangle (1021.5,629.3);
\fill[legred] (771.1,617.8) rectangle (777.5,624.2);
\fill[leggreen] (837.1,617.8) rectangle (843.5,624.2);
\fill[legblue] (881.5,617.8) rectangle (887.9,624.2);
\draw[black, line width=0.6pt] (943.7,621) -- (958.7,621);
\begin{scope}[every node/.style={anchor=base west, inner sep=0, text=navy, font={\dv\fontsize{3.34}{3.5}\selectfont}}]
\node at (785.3,618.6) {Interference};
\node at (851.3,618.6) {Game};
\node at (895.7,618.6) {Leaderboard};
\node at (962.7,618.6) {Biomarker Signal};
\end{scope}
% BL
\draw[legborder, line width=0.5pt, fill=white] (254,277) rectangle (497.3,292);
\fill[legred] (262.3,281.5) rectangle (268.3,287.5);
\fill[leggreen] (324,281.5) rectangle (330,287.5);
\fill[legblue] (365.3,281.5) rectangle (371.3,287.5);
\draw[black, line width=0.6pt] (422.7,284.5) -- (437.7,284.5);
\begin{scope}[every node/.style={anchor=base west, inner sep=0, text=navy, font={\dv\fontsize{3.15}{3.5}\selectfont}}]
\node at (275.3,282.2) {Interference};
\node at (337.3,282.2) {Game};
\node at (378.7,282.2) {Leaderboard};
\node at (440.7,282.2) {Biomarker Signal};
\end{scope}
% BR
\draw[legborder, line width=0.5pt, fill=white] (751,292.7) rectangle (1034,310.3);
\fill[legred] (760.4,298.2) rectangle (767,304.8);
\fill[leggreen] (831.4,298.2) rectangle (838,304.8);
\fill[legblue] (879,298.2) rectangle (885.6,304.8);
\draw[black, line width=0.6pt] (945.3,301.5) -- (962.7,301.5);
\begin{scope}[every node/.style={anchor=base west, inner sep=0, text=navy, font={\dv\fontsize{3.55}{4}\selectfont}}]
\node at (776,298.9) {Interference};
\node at (846.7,298.9) {Game};
\node at (894.7,298.9) {Leaderboard};
\node at (966,298.9) {Biomarker Signal};
\end{scope}

% ===== Trial annotations =====
\begin{scope}[every node/.style={align=center, inner sep=0, text=titlec, font=\fontsize{4}{5}\selectfont}]
\foreach \x/\t/\p/\d in {41.3/1/1/1, 74/2/2/1, 106/3/2/1, 135.3/4/2/2, 166/5/1/2, 192/6/1/1, 225.7/7/2/1, 258.7/8/1/3, 287/9/2/3, 319/10/2/2, 350.3/11/3/1, 382.3/12/4/1, 419/13/4/1, 446/14/4/4, 476.3/15/3/4}
  \node at (\x,362) {T\t\\P:\p\\D:\d};
\foreach \x/\t/\p/\d in {41.7/1/1/1, 75.3/2/2/1, 108.3/3/2/1, 138/4/2/2, 169.3/5/1/2, 196.3/6/1/1, 230.7/7/2/1, 264.3/8/1/3, 293.3/9/2/3, 326/10/2/2, 358.3/11/3/1, 391/12/4/1, 428.3/13/4/1, 456/14/4/4, 487/15/3/4}
  \node at (\x,18.7) {T\t\\P:\p\\D:\d};
\foreach \x/\t/\p/\d in {549.3/1/2/3, 583.7/2/2/2, 617.7/3/2/2, 648.7/4/2/1, 681/5/1/3, 708.7/6/2/1, 744.3/7/2/1, 778.7/8/2/1, 808.7/9/2/2, 843/10/2/2, 876/11/3/2, 909.7/12/4/3, 948.3/13/4/4, 977/14/3/4, 1009.3/15/3/4}
  \node at (\x,371.3) {T\t\\P:\p\\D:\d};
\foreach \x/\t/\p/\d in {570.7/1/2/3, 604.3/2/2/2, 637.7/3/2/2, 667.7/4/2/1, 699.3/5/1/3, 726.7/6/2/1, 761.3/7/2/1, 795.3/8/2/1, 824.7/9/2/2, 857.7/10/2/2, 890/11/3/2, 923.3/12/4/3, 960.7/13/4/4, 988.7/14/3/4, 1020.3/15/3/4}
  \node at (\x,16) {T\t\\P:\p\\D:\d};
\end{scope}

\pgfresetboundingbox
\useasboundingbox (0,0) rectangle (1024,642);
\end{tikzpicture}
\end{document}
